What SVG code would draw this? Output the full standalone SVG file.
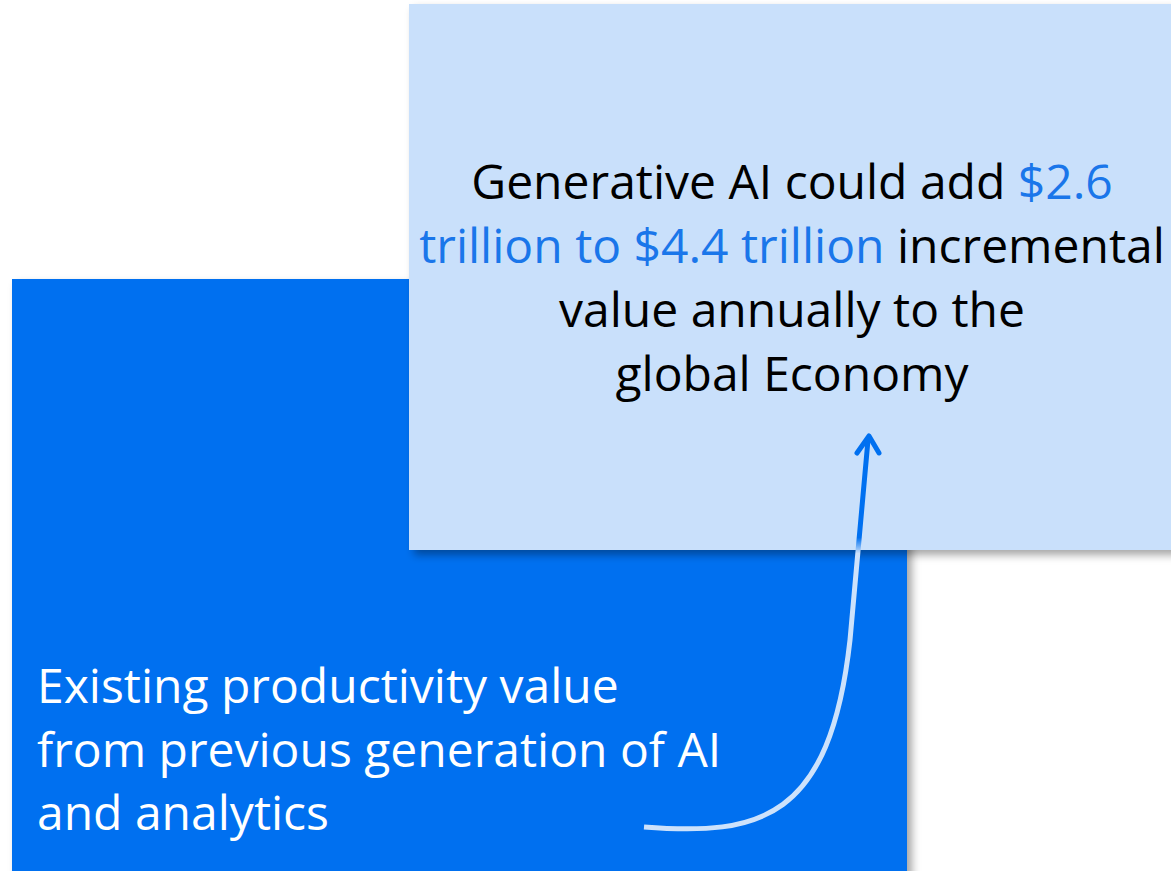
<svg xmlns="http://www.w3.org/2000/svg" width="1171" height="871" viewBox="0 0 1171 871">
<defs>
<filter id="sh" x="-5%" y="-5%" width="115%" height="115%">
<feDropShadow dx="5" dy="5" stdDeviation="4" flood-color="#000" flood-opacity="0.35"/>
</filter>
<linearGradient id="ag" gradientUnits="userSpaceOnUse" x1="0" y1="830" x2="0" y2="435">
<stop offset="0" stop-color="#cde2fb"/>
<stop offset="0.7" stop-color="#cde2fb"/>
<stop offset="0.74" stop-color="#0070f0"/>
<stop offset="1" stop-color="#0070f0"/>
</linearGradient>
<style>
.t{font-family:"Open Sans","Noto Sans",sans-serif;font-size:48px}
.dk{fill:#000}
.hl{fill:#1a76ea}
.wt{fill:#ffffff}
</style>
</defs>
<g id="existing">
<rect x="12" y="279" width="895" height="600" fill="#0070f0" filter="url(#sh)"/>
<text class="t wt" x="37" y="703">Existing productivity value</text>
<text class="t wt" x="37" y="767">from previous generation of AI</text>
<text class="t wt" x="37" y="830">and analytics</text>
</g>
<g id="genai">
<rect x="409" y="4" width="780" height="546" fill="#c9e0fb" filter="url(#sh)"/>
<text class="t dk" x="792" y="199" text-anchor="middle">Generative AI could add <tspan class="hl">$2.6</tspan></text>
<text class="t dk" x="792" y="263" text-anchor="middle"><tspan class="hl">trillion to $4.4 trillion</tspan> incremental</text>
<text class="t dk" x="792" y="327" text-anchor="middle">value annually to the</text>
<text class="t dk" x="792" y="391" text-anchor="middle">global Economy</text>
</g>
<g id="connectors">
<path d="M644 827 C760 836 830 820 850 640 L868 440" fill="none" stroke="url(#ag)" stroke-width="5"/>
<path d="M857 453 L869 436 L879 453" fill="none" stroke="#0070f0" stroke-width="5" stroke-linecap="round" stroke-linejoin="round"/>
</g>
</svg>
